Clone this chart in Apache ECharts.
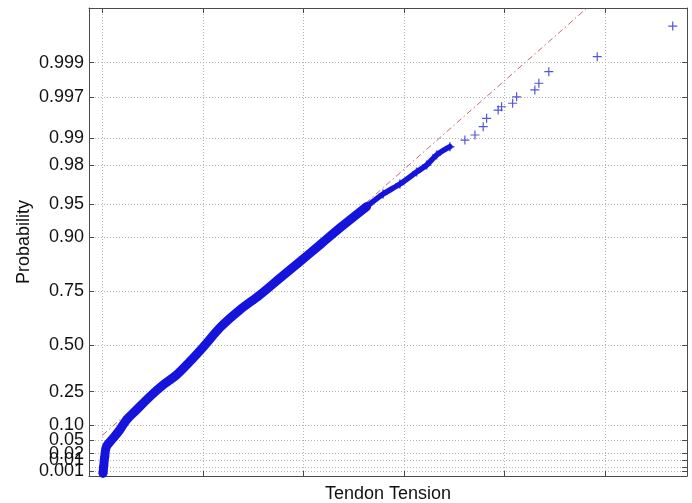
<!DOCTYPE html>
<html><head><meta charset="utf-8">
<script src="https://cdn.jsdelivr.net/npm/echarts@6/dist/echarts.min.js"></script>
<style>html,body{margin:0;padding:0;background:#fff}#c{width:692px;height:503px}</style>
</head><body><div id="c"></div>
<script>
// Probability tick values and labels (Rayleigh probability scale)
const probTicks = [0.001, 0.003, 0.01, 0.02, 0.05, 0.10, 0.25, 0.50, 0.75, 0.90, 0.95, 0.98, 0.99, 0.997, 0.999];
const probTickLabels = ['0.001', '0.003', '0.01', '0.02', '0.05', '0.10', '0.25', '0.50', '0.75', '0.90', '0.95', '0.98', '0.99', '0.997', '0.999'];
// Tendon tension grid values (unlabelled in the original)
const tensionTicks = [1, 2, 3, 4, 5, 6];
const tensionRange = [0.8666, 6.817];
const probRange = [0, 0.999857];

// Dense part of the empirical distribution (thick band)
const denseX = [1.006, 1.013, 1.023, 1.040, 1.106, 1.172, 1.239, 1.338, 1.471, 1.603, 1.737, 1.869, 2.006, 2.180, 2.367, 2.566, 2.765, 2.964, 3.163, 3.362, 3.628];
const denseP = [0.0003, 0.00403, 0.01494, 0.0341, 0.0558, 0.0820, 0.119, 0.1614, 0.2244, 0.2845, 0.3379, 0.4102, 0.4912, 0.5938, 0.6717, 0.734, 0.794, 0.8437, 0.8843, 0.9167, 0.9467];
// Thinner upper part
const upperX = [3.362, 3.628, 3.793, 3.960, 4.126, 4.226, 4.325, 4.458];
const upperP = [0.9167, 0.9467, 0.9598, 0.9681, 0.9761, 0.9799, 0.98445, 0.98751];
// Individual tail observations
const tailX = [4.607, 4.707, 4.789, 4.823, 4.938, 4.972, 5.082, 5.122, 5.303, 5.343, 5.442, 5.924, 6.675];
const tailP = [0.98956, 0.9909, 0.99278, 0.99432, 0.99554, 0.99596, 0.99636, 0.99701, 0.99758, 0.99804, 0.99865, 0.99918, 0.99972];
// Fitted reference line (two ends)
const fitX = [1.0, 6.675];
const fitP = [0.0649, 0.9999935];

const tr = p => Math.sqrt(-Math.log(1 - p));
const pairs = (xs, ps) => xs.map((x, i) => [x, tr(ps[i])]);
const tickVals = probTicks.map(tr);
const labelFor = v => {
  let best = 0, bd = Infinity;
  tickVals.forEach((t, i) => { const d = Math.abs(t - v); if (d < bd) { bd = d; best = i; } });
  return probTickLabels[best];
};

const FONT = 'Liberation Sans, Arial, Helvetica, sans-serif';
const axisColor = '#4a4a4a';
const gridLine = { show: true, lineStyle: { color: '#b4b4b4', type: [1, 2], width: 1 } };
const plus = 'path://M0,5L10,5M5,0L5,10';
const blue = '#1414dc';

const yBase = {
  type: 'value', min: tr(probRange[0]), max: tr(probRange[1]),
  axisLine: { show: true, lineStyle: { color: axisColor, width: 1 } },
  axisTick: { show: true, inside: true, length: 5, customValues: tickVals, lineStyle: { color: axisColor } },
};
const xBase = {
  type: 'value', min: tensionRange[0], max: tensionRange[1],
  axisLine: { show: true, onZero: false, lineStyle: { color: axisColor, width: 1 } },
  axisTick: { show: true, inside: true, length: 5, customValues: tensionTicks, lineStyle: { color: axisColor } },
  axisLabel: { show: false },
};

const option = {
  animation: false,
  backgroundColor: '#fff',
  grid: { left: 89, right: 5, top: 8, bottom: 27, containLabel: false, outerBoundsMode: 'none' },
  xAxis: [
    Object.assign({}, xBase, {
      position: 'bottom', name: 'Tendon Tension', nameLocation: 'middle', nameGap: 9, nameMoveOverlap: false,
      nameTextStyle: { fontFamily: FONT, fontSize: 18, color: '#111', verticalAlign: 'top' },
      splitLine: gridLine
    }),
    Object.assign({}, xBase, { position: 'top', splitLine: { show: false } })
  ],
  yAxis: [
    Object.assign({}, yBase, {
      position: 'left', name: 'Probability', nameLocation: 'middle', nameGap: 56, nameMoveOverlap: false,
      nameTextStyle: { fontFamily: FONT, fontSize: 18, color: '#111' },
      axisLabel: { show: true, customValues: tickVals, hideOverlap: false, showMinLabel: true, showMaxLabel: true,
        formatter: v => labelFor(v), fontFamily: FONT, fontSize: 18, color: '#111', margin: 5 },
      splitLine: gridLine
    }),
    Object.assign({}, yBase, { position: 'right', axisLabel: { show: false }, splitLine: { show: false } })
  ],
  series: [
    {
      type: 'line', data: pairs(fitX, fitP), symbol: 'none', z: 1,
      lineStyle: { color: '#c46a6a', width: 1, type: [6, 3, 1.5, 3] }
    },
    {
      type: 'line', data: pairs(denseX, denseP), symbol: 'none', z: 2, smooth: 0.35,
      lineStyle: { color: blue, width: 9, cap: 'round', join: 'round' }
    },
    {
      type: 'line', data: pairs(upperX, upperP), symbol: 'none', z: 2, smooth: 0.3,
      lineStyle: { color: blue, width: 5.5, cap: 'round', join: 'round' }
    },
    {
      type: 'scatter', data: pairs(denseX, denseP).concat(pairs(upperX, upperP)), symbol: plus, symbolSize: 9, z: 3,
      itemStyle: { color: 'none', borderColor: blue, borderWidth: 1.5 }
    },
    {
      type: 'scatter', data: pairs(tailX, tailP), symbol: plus, symbolSize: 9, z: 3,
      itemStyle: { color: 'none', borderColor: '#2a2ad0', borderWidth: 1.2 }
    }
  ]
};
const chart = echarts.init(document.getElementById('c'), null, { renderer: 'canvas' });
chart.setOption(option);
</script>
</body></html>
